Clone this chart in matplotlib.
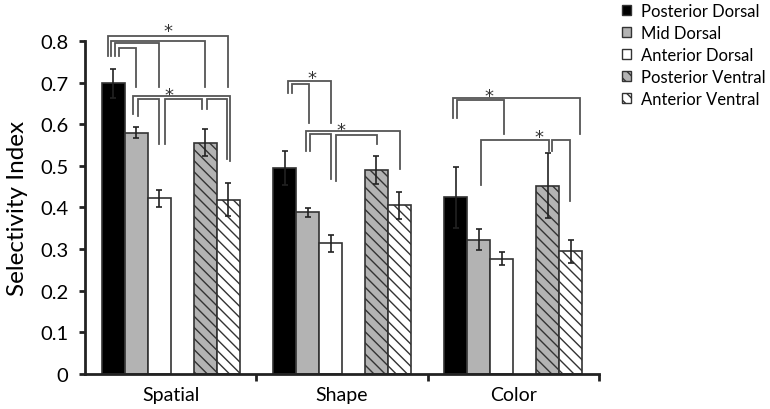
import matplotlib.pyplot as plt
import numpy as np
from matplotlib.patches import Patch

plt.rcParams['font.family'] = ['Lato', 'DejaVu Sans']
plt.rcParams['hatch.linewidth'] = 1.0

categories = ["Spatial", "Shape", "Color"]
regions = ["Posterior Dorsal", "Mid Dorsal", "Anterior Dorsal",
           "Posterior Ventral", "Anterior Ventral"]

post_dorsal = [0.698, 0.495, 0.424]
mid_dorsal = [0.580, 0.388, 0.323]
ant_dorsal = [0.422, 0.314, 0.277]
post_ventral = [0.556, 0.490, 0.452]
ant_ventral = [0.419, 0.405, 0.295]

post_dorsal_err = [0.035, 0.040, 0.074]
mid_dorsal_err = [0.013, 0.011, 0.025]
ant_dorsal_err = [0.020, 0.020, 0.015]
post_ventral_err = [0.032, 0.034, 0.078]
ant_ventral_err = [0.040, 0.033, 0.028]

values = [post_dorsal, mid_dorsal, ant_dorsal, post_ventral, ant_ventral]
errors = [post_dorsal_err, mid_dorsal_err, ant_dorsal_err,
          post_ventral_err, ant_ventral_err]

# significance brackets: (category, x_left, x_right, y_top, y_left_end, y_right_end)
# x offsets are relative to the category centre
brackets = [
    (0, -0.367, 0.335, 0.812, 0.764, 0.690),
    (0, -0.347, 0.199, 0.800, 0.764, 0.690),
    (0, -0.323, -0.070, 0.794, 0.764, 0.690),
    (0, -0.302, -0.205, 0.784, 0.764, 0.690),
    (0, -0.220, 0.345, 0.668, 0.624, 0.512),
    (0, -0.191, -0.070, 0.660, 0.620, 0.552),
    (0, -0.031, 0.185, 0.660, 0.552, 0.636),
    (0, 0.212, 0.326, 0.660, 0.636, 0.516),
    (1, -0.314, -0.064, 0.704, 0.676, 0.603),
    (1, -0.294, -0.191, 0.696, 0.676, 0.603),
    (1, -0.212, 0.339, 0.584, 0.536, 0.492),
    (1, -0.187, -0.066, 0.576, 0.536, 0.468),
    (1, -0.035, 0.203, 0.574, 0.464, 0.552),
    (2, -0.355, 0.388, 0.664, 0.616, 0.576),
    (2, -0.329, -0.053, 0.658, 0.616, 0.576),
    (2, -0.189, 0.206, 0.563, 0.454, 0.536),
    (2, 0.226, 0.329, 0.563, 0.536, 0.416),
]
stars = [(0, -0.018, 0.837), (0, -0.012, 0.684),
         (1, -0.178, 0.724), (1, -0.006, 0.600),
         (2, -0.144, 0.680), (2, 0.152, 0.582)]

fills = ["black", "#b3b3b3", "white", "#b3b3b3", "white"]
hatches = [None, None, None, "\\\\\\", "\\\\\\"]
slots = [-2.5, -1.5, -0.5, 1.5, 2.5]
width = 0.134
edge = "#333333"

fig = plt.figure(figsize=(7.7, 4.1), dpi=100)
ax = fig.add_axes([0.1104, 0.0854, 0.6675, 0.8122])

x = np.arange(len(categories))
for i in range(len(regions)):
    xs = x + slots[i] * width
    ax.bar(xs, values[i], width, color=fills[i], edgecolor=edge,
           linewidth=1.2, hatch=hatches[i], zorder=2)
    ax.errorbar(xs, values[i], yerr=errors[i], fmt="none", ecolor="#222222",
                elinewidth=1.2, capsize=2.5, capthick=1.2, zorder=3)

for cat, xl, xr, top, lb, rb in brackets:
    ax.plot([cat + xl, cat + xl, cat + xr, cat + xr], [lb, top, top, rb],
            color="#555555", linewidth=1.3, clip_on=False, zorder=4,
            solid_joinstyle="miter")
for cat, sx, sy in stars:
    ax.annotate("*", (cat + sx, sy), xytext=(0, -7.5), textcoords="offset points",
                ha="center", va="baseline", fontsize=13, family="DejaVu Sans",
                color="#333333", annotation_clip=False)

ax.set_xlim(-0.5, 2.5)
ax.set_ylim(0, 0.8)
ax.set_yticks(np.arange(0, 0.81, 0.1))
ax.set_yticklabels(["0"] + [f"{v:.1f}" for v in np.arange(0.1, 0.81, 0.1)])
ax.set_xticks(x)
ax.set_xticklabels(categories)
ax.set_xticks([0.5, 1.5, 2.5], minor=True)
ax.tick_params(axis="x", which="major", length=0, pad=9, labelsize=14)
ax.tick_params(axis="x", which="minor", length=5, width=2, color="#222222")
ax.tick_params(axis="y", length=4, width=2, color="#222222", pad=8, labelsize=14.5)
for side in ("top", "right"):
    ax.spines[side].set_visible(False)
for side in ("left", "bottom"):
    ax.spines[side].set_linewidth(2)
    ax.spines[side].set_color("#222222")
ax.set_ylabel("Selectivity Index", fontsize=17.5, labelpad=9)

handles = [Patch(facecolor=fills[i], edgecolor=edge, hatch=hatches[i],
                 linewidth=1.0) for i in range(len(regions))]
fig.legend(handles, regions, loc="upper left", bbox_to_anchor=(0.806, 0.995),
           frameon=False, fontsize=12, handlelength=0.55, handleheight=0.55,
           handletextpad=0.6, labelspacing=0.36, borderaxespad=0, borderpad=0.1)

fig.savefig("out.png", dpi=100)
